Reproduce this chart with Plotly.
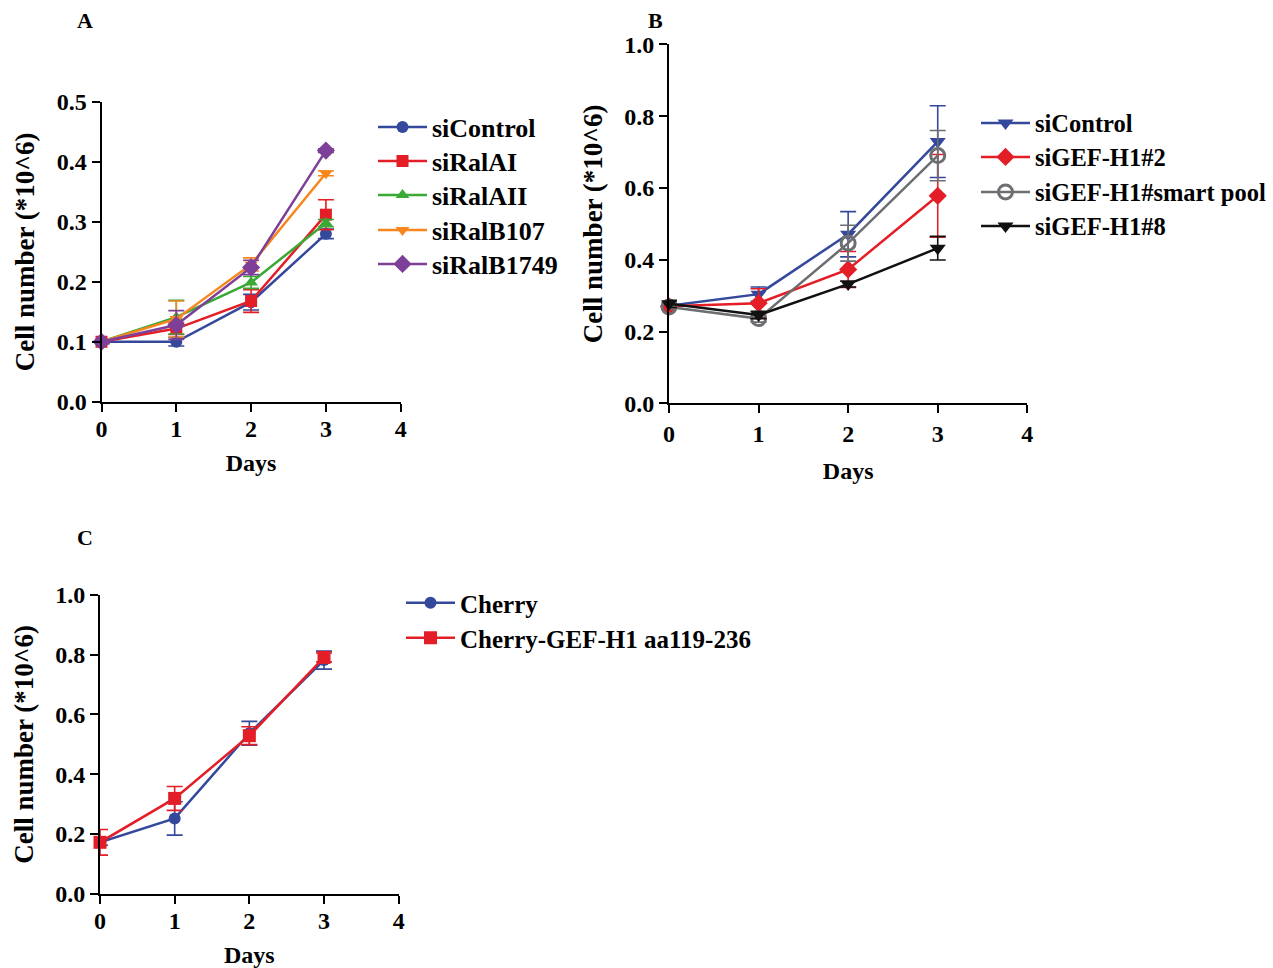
import plotly.graph_objects as go

W, H = 1273, 968
FONT = "Liberation Serif"

# ---------------- data ----------------
days = [0, 1, 2, 3]

# Panel A
a_names = ["siControl", "siRalAI", "siRalAII", "siRalB107", "siRalB1749"]
a_siControl = [0.100, 0.100, 0.166, 0.280]
a_siControl_err = [0.003, 0.007, 0.013, 0.008]
a_siRalAI = [0.100, 0.122, 0.168, 0.312]
a_siRalAI_err = [0.003, 0.010, 0.019, 0.025]
a_siRalAII = [0.100, 0.141, 0.199, 0.298]
a_siRalAII_err = [0.003, 0.028, 0.010, 0.006]
a_siRalB107 = [0.100, 0.138, 0.229, 0.381]
a_siRalB107_err = [0.003, 0.030, 0.011, 0.004]
a_siRalB1749 = [0.100, 0.128, 0.224, 0.419]
a_siRalB1749_err = [0.003, 0.024, 0.012, 0.003]

# Panel B
b_names = ["siControl", "siGEF-H1#2", "siGEF-H1#smart pool", "siGEF-H1#8"]
b_siControl = [0.272, 0.304, 0.471, 0.729]
b_siControl_err = [0.010, 0.020, 0.063, 0.100]
b_siGEF2 = [0.270, 0.279, 0.373, 0.578]
b_siGEF2_err = [0.005, 0.040, 0.050, 0.115]
b_smart = [0.268, 0.236, 0.446, 0.690]
b_smart_err = [0.005, 0.010, 0.050, 0.070]
b_siGEF8 = [0.277, 0.246, 0.332, 0.432]
b_siGEF8_err = [0.010, 0.010, 0.008, 0.033]

# Panel C
c_names = ["Cherry", "Cherry-GEF-H1 aa119-236"]
c_cherry = [0.172, 0.252, 0.537, 0.782]
c_cherry_err = [0.010, 0.056, 0.040, 0.030]
c_cherry_gef = [0.172, 0.319, 0.529, 0.791]
c_cherry_gef_err = [0.043, 0.040, 0.030, 0.015]

x_ticks = [0, 1, 2, 3, 4]
a_yticks = [0.0, 0.1, 0.2, 0.3, 0.4, 0.5]
bc_yticks = [0.0, 0.2, 0.4, 0.6, 0.8, 1.0]

# ---------------- style ----------------
BLUE = "#34499b"
RED = "#e41e26"
GREEN = "#3aa935"
ORANGE = "#f7861f"
PURPLE = "#7e3f98"
GRAY = "#6d6e71"
BLACK = "#111111"

def px_x(p):
    return p / W

def px_y(p):
    return 1 - p / H

fig = go.Figure()
legends = {}
leg_counter = [0]

def add(x, y, err, name, color, symbol, size, xa, ya, leg_x, leg_y, leg_size, mline=0):
    leg_counter[0] += 1
    key = "legend" if leg_counter[0] == 1 else "legend%d" % leg_counter[0]
    legends[key] = dict(x=px_x(leg_x), y=px_y(leg_y), xanchor="left",
                        yanchor="middle",
                        font=dict(family=FONT, size=leg_size, color="black", weight="bold"),
                        itemwidth=49, bgcolor="rgba(0,0,0,0)", borderwidth=0)
    fig.add_trace(go.Scatter(
        x=x, y=y, name=name, mode="lines+markers",
        xaxis=xa, yaxis=ya, legend=key, showlegend=True,
        line=dict(color=color, width=2.5),
        marker=dict(color=color, symbol=symbol, size=size,
                    line=dict(color=color, width=mline)),
        error_y=dict(type="data", array=err, visible=True, color=color,
                     thickness=1.6, width=8),
        cliponaxis=False,
    ))

a_series = [
    (a_siControl, a_siControl_err, BLUE, "circle", 12),
    (a_siRalAI, a_siRalAI_err, RED, "square", 12),
    (a_siRalAII, a_siRalAII_err, GREEN, "triangle-up", 12),
    (a_siRalB107, a_siRalB107_err, ORANGE, "triangle-down", 12),
    (a_siRalB1749, a_siRalB1749_err, PURPLE, "diamond", 14),
]
a_leg_y = [127, 161, 195, 230, 264]
for i, (y, e, c, s, sz) in enumerate(a_series):
    add(days, y, e, a_names[i], c, s, sz, "x", "y", 373, a_leg_y[i], 26)

b_series = [
    (b_siControl, b_siControl_err, BLUE, "triangle-down", 14, 0),
    (b_siGEF2, b_siGEF2_err, RED, "diamond", 14, 0),
    (b_smart, b_smart_err, GRAY, "circle-open", 14, 3),
    (b_siGEF8, b_siGEF8_err, BLACK, "triangle-down", 14, 0),
]
b_leg_y = [123, 157, 192, 226]
for i, (y, e, c, s, sz, ml) in enumerate(b_series):
    add(days, y, e, b_names[i], c, s, sz, "x2", "y2", 976, b_leg_y[i], 24.5, ml)

c_series = [
    (c_cherry, c_cherry_err, BLUE, "circle", 12),
    (c_cherry_gef, c_cherry_gef_err, RED, "square", 13),
]
c_leg_y = [603, 638]
for i, (y, e, c, s, sz) in enumerate(c_series):
    add(days, y, e, c_names[i], c, s, sz, "x3", "y3", 401, c_leg_y[i], 25)

tickfont = dict(family=FONT, size=24, color="black", weight="bold")
xtitlefont = dict(family=FONT, size=24, color="black", weight="bold")
ytitlefont = dict(family=FONT, size=27, color="black", weight="bold")

def xaxis(dom, anchor, lab_standoff, title_standoff):
    return dict(domain=dom, anchor=anchor, range=[0, 4], tickvals=x_ticks,
                ticktext=[str(t) for t in x_ticks],
                showline=True, linecolor="black", linewidth=2,
                ticks="outside", ticklen=8, tickwidth=2, tickcolor="black",
                showgrid=False, zeroline=False, tickfont=tickfont,
                ticklabelstandoff=lab_standoff, automargin=False,
                title=dict(text="Days", font=xtitlefont, standoff=title_standoff))

def yaxis(dom, anchor, rng, tv):
    return dict(domain=dom, anchor=anchor, range=rng, tickvals=tv,
                ticktext=["%.1f" % t for t in tv],
                showline=True, linecolor="black", linewidth=2,
                ticks="outside", ticklen=8, tickwidth=2, tickcolor="black",
                showgrid=False, zeroline=False, tickfont=tickfont,
                automargin=False,
                title=dict(text="Cell number (*10^6)", font=ytitlefont, standoff=14))

labfont = dict(family=FONT, size=22, color="black", weight="bold")

def letter(t, xp, yp):
    return dict(text=t, x=px_x(xp), y=px_y(yp), xref="paper", yref="paper",
                xanchor="center", yanchor="middle", showarrow=False, font=labfont)

fig.update_layout(
    width=W, height=H,
    margin=dict(l=0, r=0, t=0, b=0, autoexpand=False),
    paper_bgcolor="white", plot_bgcolor="white",
    font=dict(family=FONT, color="black"),
    showlegend=True,
    xaxis=xaxis([px_x(101.5), px_x(400.7)], "y", -4, 14),
    yaxis=yaxis([px_y(401.7), px_y(102)], "x", [0, 0.5], a_yticks),
    xaxis2=xaxis([px_x(669), px_x(1027.3)], "y2", 0, 16),
    yaxis2=yaxis([px_y(403.3), px_y(44.3)], "x2", [0, 1.0], bc_yticks),
    xaxis3=xaxis([px_x(100), px_x(398.7)], "y3", -4, 14),
    yaxis3=yaxis([px_y(893.7), px_y(595)], "x3", [0, 1.0], bc_yticks),
    annotations=[letter("A", 85, 20), letter("B", 655, 20), letter("C", 85, 537)],
    **legends,
)

fig.write_html("out.html",
               config={"displayModeBar": False},
               post_script="document.body.style.margin='0';document.body.style.padding='0';")
